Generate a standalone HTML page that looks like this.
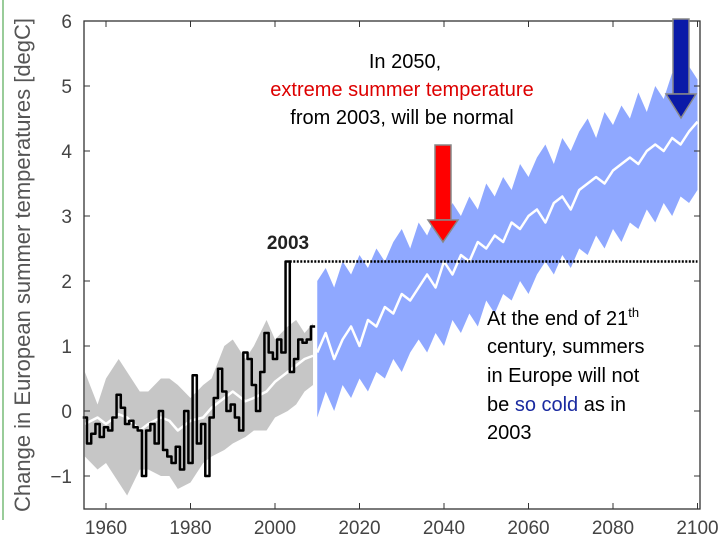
<!DOCTYPE html>
<html><head><meta charset="utf-8"><style>
body{margin:0;background:#fff;width:720px;height:540px;overflow:hidden;font-family:"Liberation Sans",sans-serif}
svg{position:absolute;left:0;top:0}
</style></head><body>
<svg width="720" height="540">
<rect x="2" y="0" width="2" height="520" fill="#9c9"/>
<g id="plot"></g>
<text transform="translate(30,265) rotate(-90)" text-anchor="middle" font-size="22" fill="#555">Change in European summer temperatures [degC]</text>
<text x="288" y="249" text-anchor="middle" font-size="19" font-weight="bold" fill="#222">2003</text>
<g font-size="20" text-anchor="middle">
<text x="405" y="68" fill="#000">In 2050,</text>
<text x="402" y="96" fill="#d00">extreme summer temperature</text>
<text x="402" y="124" fill="#000">from 2003, will be normal</text>
</g>
<g font-size="20">
<text x="487" y="325">At the end of 21<tspan font-size="13" dy="-8">th</tspan></text>
<text x="487" y="353">century, summers</text>
<text x="487" y="382">in Europe will not</text>
<text x="487" y="411">be <tspan fill="#1a2aa0">so cold</tspan> as in</text>
<text x="487" y="439">2003</text>
</g>
<g>
<rect x="435" y="145" width="16" height="75" fill="#f00" stroke="#888" stroke-width="1.5"/>
<polygon points="428,220 458,220 443,242" fill="#f00" stroke="#888" stroke-width="1.5"/>
</g>
<g>
<rect x="673" y="19" width="16" height="75" fill="#0a1aa8" stroke="#888" stroke-width="1.5"/>
<polygon points="666,94 696,94 681,118" fill="#0a1aa8" stroke="#888" stroke-width="1.5"/>
</g>
</svg>
<script>
const obsYears=[];for(let y=1955;y<=2009;y++)obsYears.push(y);
const obsValues=[-0.1,-0.5,-0.35,-0.2,-0.4,-0.25,-0.3,-0.1,0.25,0.05,-0.2,-0.15,-0.25,-0.3,-1.0,-0.3,-0.2,-0.5,0.0,-0.6,-0.7,-0.8,-0.55,-0.9,0.0,-0.8,0.55,-0.5,-0.2,-1.0,-0.1,0.2,0.65,0.3,0.0,0.1,-0.1,-0.3,0.9,0.8,0.4,0.0,0.6,1.2,0.9,0.8,1.1,0.9,2.3,0.6,0.8,1.1,1.05,1.1,1.3];
const histYears=[1955,1958,1960,1963,1965,1968,1970,1973,1975,1977,1980,1983,1985,1988,1990,1993,1995,1998,2000,2003,2005,2007,2009];
const histMean=[-0.2,-0.1,-0.2,-0.05,-0.1,-0.3,-0.2,-0.1,-0.15,-0.3,-0.15,-0.1,0.05,0.2,0.3,0.15,0.2,0.3,0.45,0.6,0.7,0.8,0.85];
const histUpper=[0.6,0.1,0.5,0.8,0.6,0.3,0.3,0.5,0.5,0.4,0.2,0.4,0.5,1.0,1.1,0.8,1.0,1.4,1.1,1.3,1.4,1.2,1.35];
const histLower=[-0.7,-0.9,-0.8,-1.1,-1.3,-0.9,-0.9,-1.0,-1.0,-1.2,-1.1,-0.8,-0.7,-0.6,-0.5,-0.4,-0.3,-0.3,-0.1,0.0,0.1,0.3,0.4];
const projYears=[];for(let y=2010;y<=2100;y+=2)projYears.push(y);
const projUpper=[2.0,2.2,1.9,2.3,2.1,2.4,2.2,2.5,2.3,2.6,2.8,2.5,2.9,2.7,3.0,2.9,3.2,3.0,3.3,3.1,3.5,3.3,3.6,3.4,3.8,3.6,3.9,4.1,3.8,4.2,4.0,4.3,4.5,4.2,4.6,4.4,4.7,4.5,4.9,4.6,5.0,4.8,5.2,4.9,5.3,5.1];
const projLower=[-0.1,0.3,0.0,0.4,0.2,0.5,0.3,0.6,0.5,0.8,0.6,0.9,1.1,0.9,1.2,1.0,1.4,1.2,1.5,1.3,1.7,1.5,1.8,1.7,2.0,1.8,2.1,2.3,2.1,2.4,2.2,2.5,2.4,2.7,2.5,2.8,2.6,2.9,2.8,3.1,2.9,3.2,3.0,3.3,3.2,3.4];
const projMean=[0.9,1.2,0.8,1.1,1.3,1.0,1.4,1.3,1.6,1.5,1.8,1.7,1.9,2.1,1.9,2.3,2.1,2.4,2.3,2.6,2.5,2.7,2.6,2.9,2.8,3.0,3.1,2.9,3.2,3.3,3.1,3.4,3.5,3.6,3.5,3.7,3.8,3.9,3.8,4.0,4.1,4.0,4.2,4.1,4.3,4.45];
const refYear=2003, refValue=2.3;
const xTicks=[1960,1980,2000,2020,2040,2060,2080,2100];
const yTicks=[-1,0,1,2,3,4,5,6];

const X=y=>106+(y-1960)*4.225, Y=v=>411-v*65;
const NS='http://www.w3.org/2000/svg', g=document.getElementById('plot');
function mk(t,a){const e=document.createElementNS(NS,t);for(const k in a)e.setAttribute(k,a[k]);g.appendChild(e);return e;}
function band(xs,up,lo,fill,name){
  let d='M'+xs.map((x,i)=>X(x)+','+Y(up[i])).join('L')+'L'+xs.map((x,i)=>X(x)+','+Y(lo[i])).reverse().join('L')+'Z';
  const e=mk('path',{d:d,fill:fill});
  
  
}
function line(xs,vs,st,w,name,step){
  let d='';
  xs.forEach((x,i)=>{
    if(step){d+=(i?'L'+X(x-0.5)+','+Y(vs[i-1])+'L'+X(x-0.5)+','+Y(vs[i]):'M'+X(x-0.5)+','+Y(vs[i]));if(i==xs.length-1)d+='L'+X(x+0.5)+','+Y(vs[i]);}
    else d+=(i?'L':'M')+X(x)+','+Y(vs[i]);
  });
  const e=mk('path',{d:d,fill:'none',stroke:st,'stroke-width':w,'stroke-linejoin':'round'});
  
  
}
band(histYears,histUpper,histLower,'#c6c6c6','historical-band');
band(projYears,projUpper,projLower,'#8fa8ff','projection-band');
line(histYears,histMean,'#fff',2.5,'historical-mean-line');
line(projYears,projMean,'#fff',2.5,'projection-mean-line');
line(obsYears,obsValues,'#000',2.5,'observed-line',true);
const ref=mk('line',{x1:X(refYear+0.5),y1:Y(refValue),x2:X(2100),y2:Y(refValue),stroke:'#000','stroke-width':2.5,'stroke-dasharray':'2,1.5'});


const box=mk('rect',{x:84,y:21,width:616,height:488,fill:'none',stroke:'#333','stroke-width':1.3});


xTicks.forEach(t=>{
  mk('line',{x1:X(t),x2:X(t),y1:509,y2:503,stroke:'#333'});
  mk('line',{x1:X(t),x2:X(t),y1:21,y2:27,stroke:'#333'});
  const tx=mk('text',{x:X(t),y:534,'text-anchor':'middle','font-size':'19',fill:'#444'});tx.textContent=t;
  
  
});
yTicks.forEach(t=>{
  mk('line',{x1:84,x2:90,y1:Y(t),y2:Y(t),stroke:'#333'});
  mk('line',{x1:700,x2:694,y1:Y(t),y2:Y(t),stroke:'#333'});
  const tx=mk('text',{x:72,y:Y(t)+7,'text-anchor':'end','font-size':'19',fill:'#444'});tx.textContent=t<0?'\u2212'+(-t):t;
  
  
});
</script>
</body></html>
